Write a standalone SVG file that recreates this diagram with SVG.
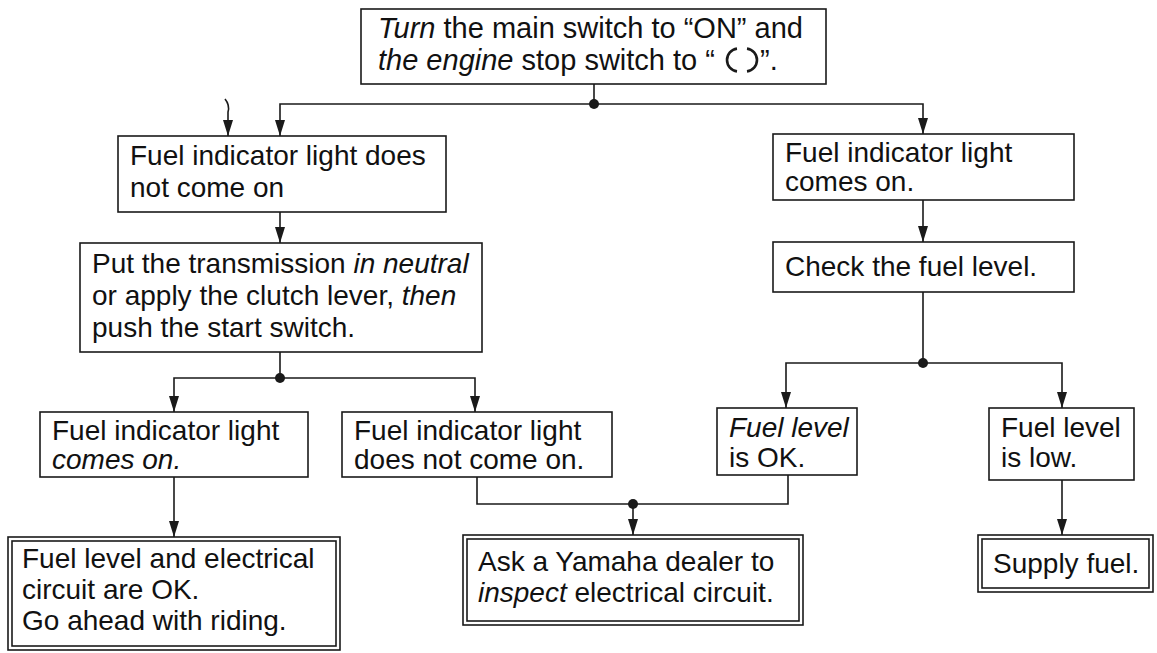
<svg xmlns="http://www.w3.org/2000/svg" width="1157" height="653" viewBox="0 0 1157 653">
<defs>
<marker id="ah" markerUnits="userSpaceOnUse" markerWidth="16" markerHeight="10" refX="16" refY="5" orient="auto">
<path d="M0,0 L16,5 L0,10 Z" fill="#1a1a1a"/>
</marker>
<style>
.box{fill:#fff;stroke:#1a1a1a;stroke-width:1.6}
.t{font-family:"Liberation Sans",Arial,sans-serif;font-size:28px;fill:#111}
.big{font-size:29px}
.i{font-style:italic}
.c{fill:none;stroke:#1a1a1a;stroke-width:1.6}
.a{marker-end:url(#ah)}
.dot{fill:#1a1a1a}
</style>
</defs>
<rect width="1157" height="653" fill="#fff"/>
<g id="connectors">
<path class="c" d="M594,84 V104"/>
<path class="c a" d="M594,104 H280 V136"/>
<path class="c a" d="M594,104 H923 V134"/>
<circle class="dot" cx="594" cy="104" r="5"/>
<path class="c a" d="M225,99 Q230,105 228,112 V136"/>
<path class="c a" d="M280,212 V243"/>
<path class="c a" d="M923,200 V242"/>
<path class="c a" d="M280,352 V378 H174 V412"/>
<path class="c a" d="M280,378 H475 V412"/>
<circle class="dot" cx="280" cy="378" r="5"/>
<path class="c a" d="M923,292 V363 H786 V408"/>
<path class="c a" d="M923,363 H1062 V408"/>
<circle class="dot" cx="923" cy="363" r="5"/>
<path class="c a" d="M174,477 V537"/>
<path class="c" d="M477,477 V504 H788 V475"/>
<path class="c a" d="M633,504 V535"/>
<circle class="dot" cx="633" cy="504" r="5"/>
<path class="c a" d="M1062,480 V535"/>
</g>
<g id="n-start">
<rect class="box" x="361" y="9" width="465" height="75"/>
<text class="t big" x="378" y="38"><tspan class="i">Turn</tspan> the main switch to “ON” and</text>
<text class="t big" x="378" y="70"><tspan class="i">the engine</tspan> stop switch to “</text>
<path class="c" style="stroke-width:2.6" d="M737,48.6 A11.5,11.5 0 0 0 737,71.4 M747,48.6 A11.5,11.5 0 0 1 747,71.4"/>
<text class="t big" x="760" y="70">”.</text>
</g>
<g id="n-no-light">
<rect class="box" x="118" y="136" width="328" height="76"/>
<text class="t" x="130" y="165">Fuel indicator light does</text>
<text class="t" x="130" y="197">not come on</text>
</g>
<g id="n-light-on">
<rect class="box" x="773" y="134" width="301" height="66"/>
<text class="t" x="785" y="162">Fuel indicator light</text>
<text class="t" x="785" y="191">comes on.</text>
</g>
<g id="n-check">
<rect class="box" x="773" y="242" width="301" height="50"/>
<text class="t" x="785" y="276">Check the fuel level.</text>
</g>
<g id="n-neutral">
<rect class="box" x="80" y="243" width="402" height="109"/>
<text class="t" x="92" y="273">Put the transmission <tspan class="i">in neutral</tspan></text>
<text class="t" x="92" y="305">or apply the clutch lever, <tspan class="i">then</tspan></text>
<text class="t" x="92" y="337">push the start switch.</text>
</g>
<g id="n-on2">
<rect class="box" x="40" y="412" width="268" height="65"/>
<text class="t" x="52" y="440">Fuel indicator light</text>
<text class="t i" x="52" y="469">comes on.</text>
</g>
<g id="n-off2">
<rect class="box" x="342" y="412" width="270" height="65"/>
<text class="t" x="354" y="440">Fuel indicator light</text>
<text class="t" x="354" y="469">does not come on.</text>
</g>
<g id="n-level-ok">
<rect class="box" x="717" y="408" width="140" height="67"/>
<text class="t i" x="729" y="437">Fuel level</text>
<text class="t" x="729" y="467">is OK.</text>
</g>
<g id="n-level-low">
<rect class="box" x="989" y="408" width="145" height="72"/>
<text class="t" x="1001" y="437">Fuel level</text>
<text class="t" x="1001" y="467">is low.</text>
</g>
<g id="n-ok-ride">
<rect class="box" x="8" y="537" width="332" height="113"/>
<rect class="box" x="12" y="541" width="324" height="105"/>
<text class="t" x="22" y="568">Fuel level and electrical</text>
<text class="t" x="22" y="599">circuit are OK.</text>
<text class="t" x="22" y="630">Go ahead with riding.</text>
</g>
<g id="n-dealer">
<rect class="box" x="463" y="535" width="340" height="90"/>
<rect class="box" x="467" y="539" width="332" height="82"/>
<text class="t" x="478" y="571">Ask a Yamaha dealer to</text>
<text class="t" x="478" y="602"><tspan class="i">inspect</tspan> electrical circuit.</text>
</g>
<g id="n-supply">
<rect class="box" x="978" y="535" width="175" height="57"/>
<rect class="box" x="982" y="539" width="167" height="49"/>
<text class="t" x="993" y="573">Supply fuel.</text>
</g>
</svg>
